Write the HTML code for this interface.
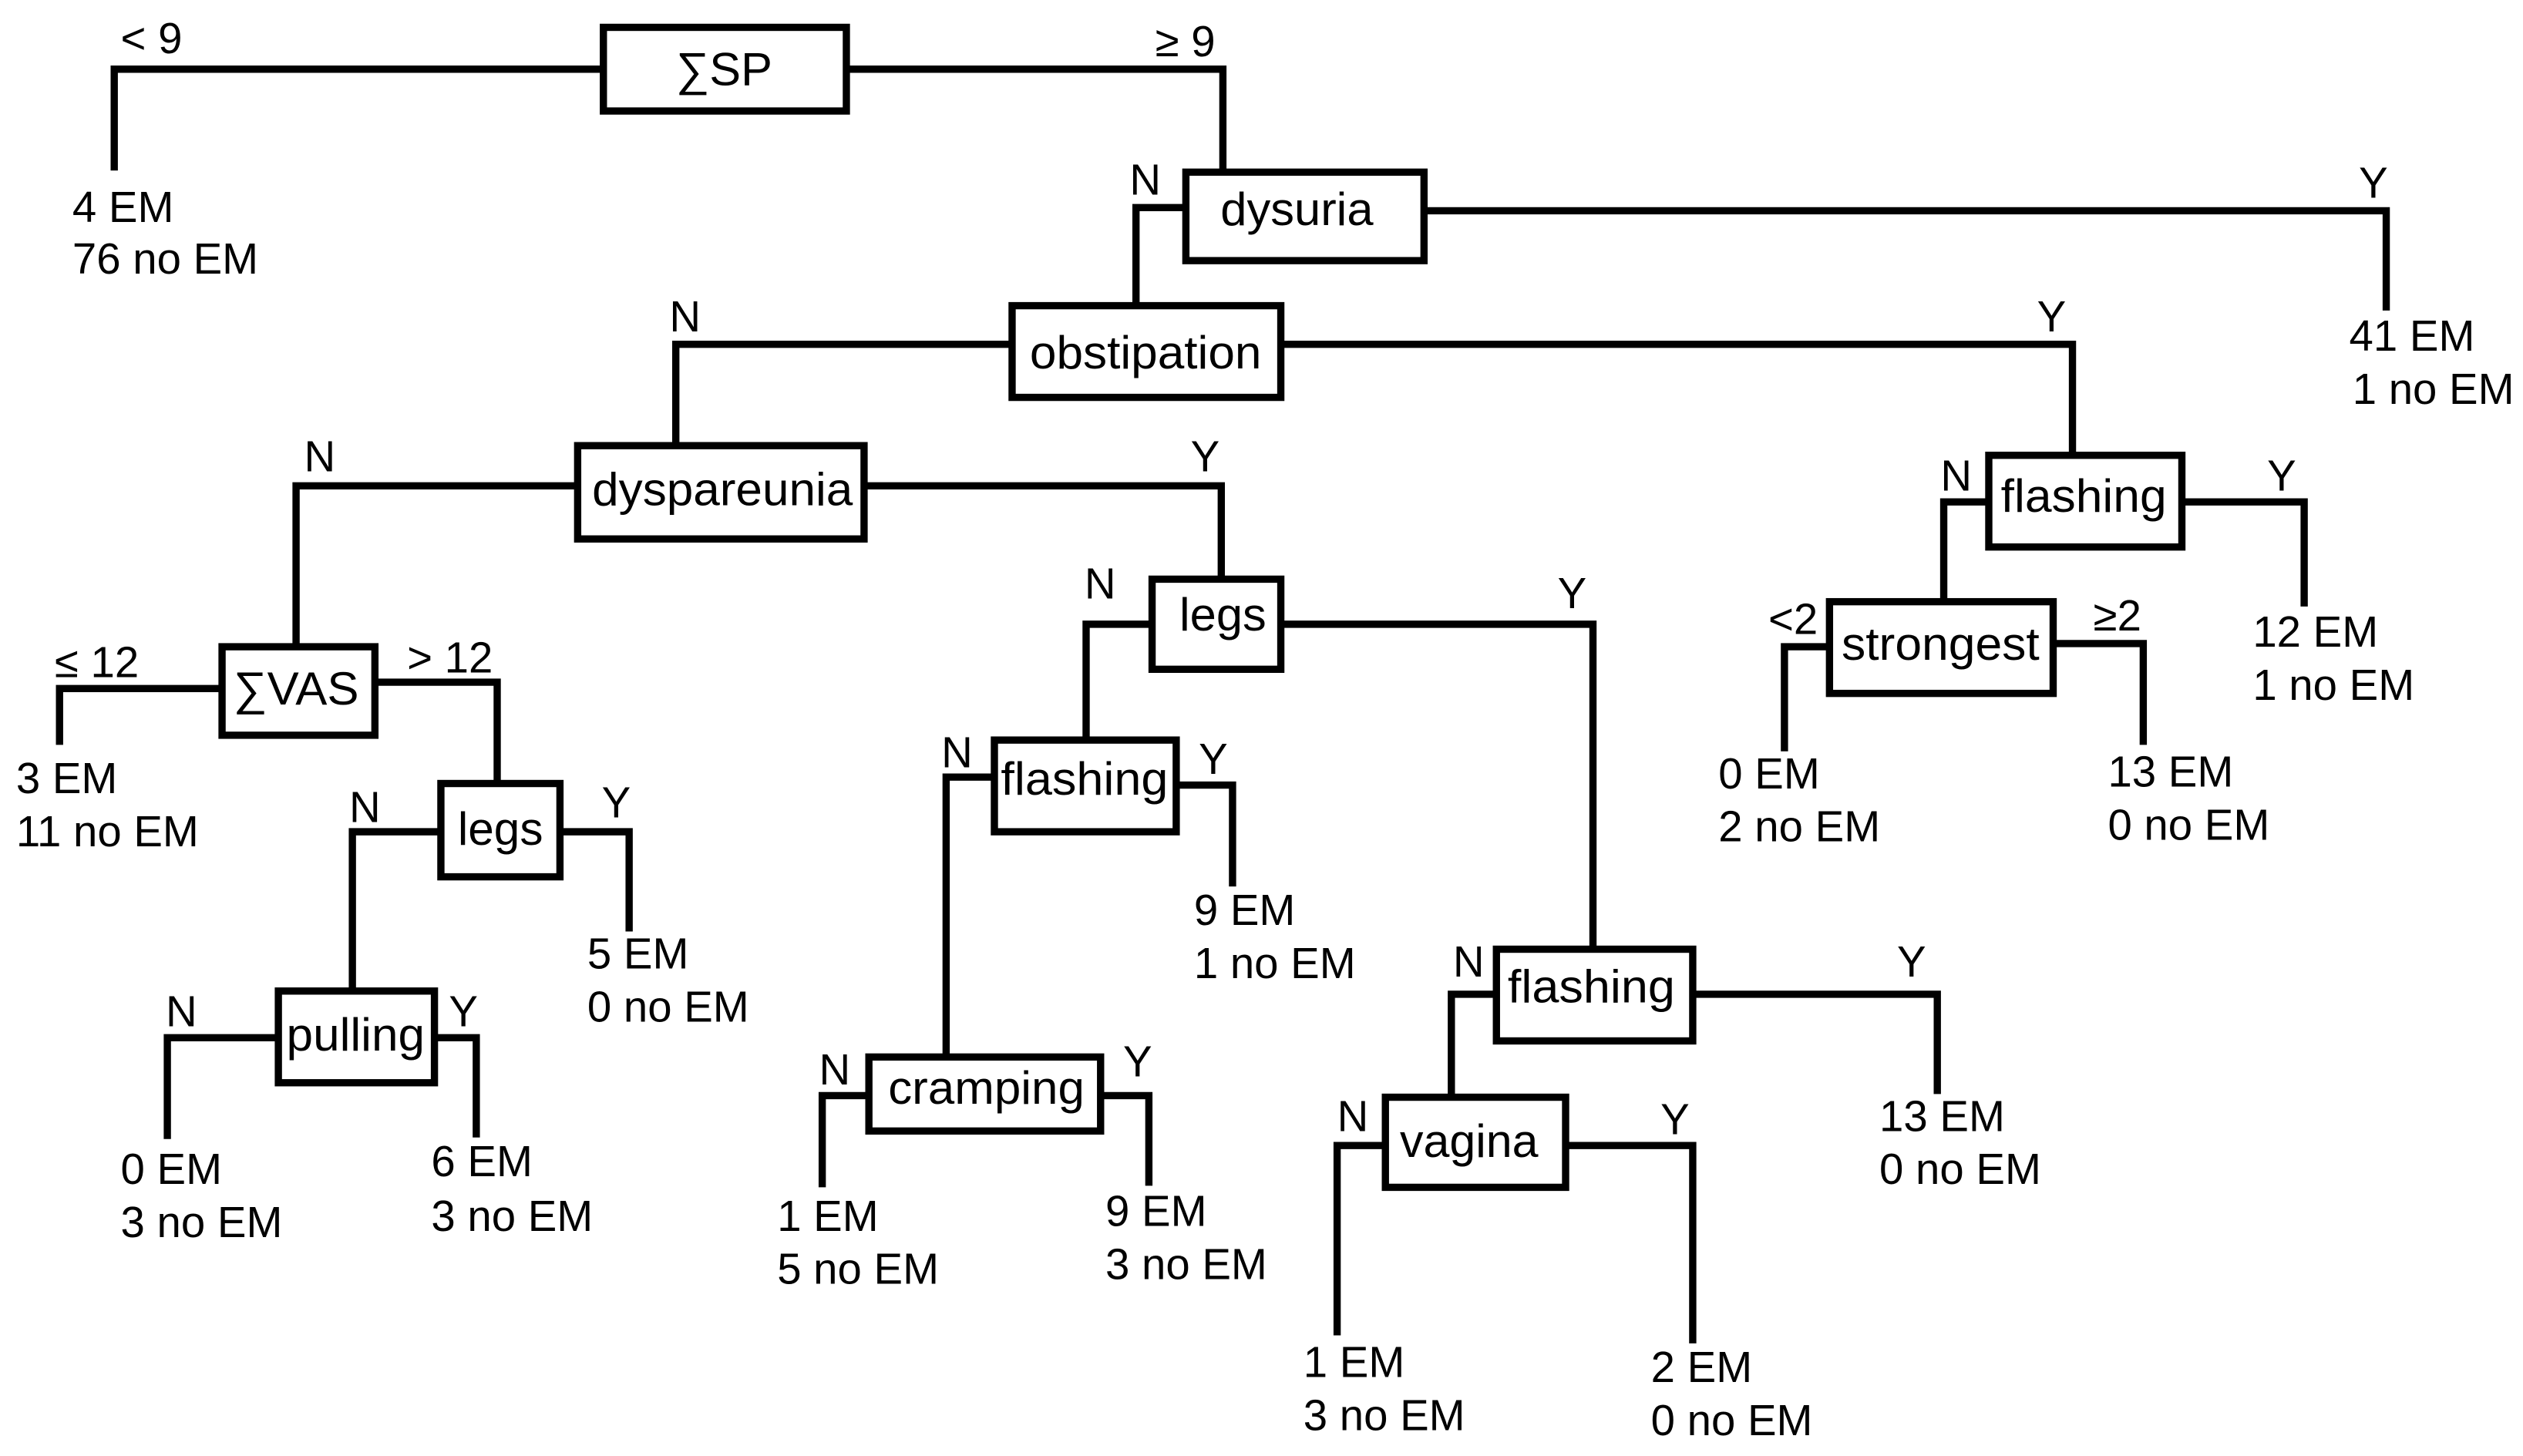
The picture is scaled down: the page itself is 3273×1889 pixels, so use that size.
<!DOCTYPE html>
<html><head><meta charset="utf-8"><style>
html,body{margin:0;padding:0;background:#fff;}
svg{display:block;}
text{font-family:"Liberation Sans",Arial,sans-serif;font-size:27px;fill:#000;}
.b text{font-size:29px;}
</style></head><body>
<svg width="3273" height="1889" viewBox="0 0 1568 905" preserveAspectRatio="none" xmlns="http://www.w3.org/2000/svg">
<g fill="none" stroke="#000" stroke-width="4.5">
<polyline points="375,43 71,43 71,106"/>
<polyline points="526,43 760,43 760,107"/>
<polyline points="885,131 1483,131 1483,193"/>
<polyline points="737,129 706,129 706,190"/>
<polyline points="629,214 420,214 420,277"/>
<polyline points="796,214 1288,214 1288,283"/>
<polyline points="359,302 184,302 184,402"/>
<polyline points="537,302 759,302 759,360"/>
<polyline points="138,428 37,428 37,463"/>
<polyline points="233,424 309,424 309,487"/>
<polyline points="274,517 219,517 219,616"/>
<polyline points="348,517 391,517 391,579"/>
<polyline points="173,645 104,645 104,708"/>
<polyline points="270,645 296,645 296,707"/>
<polyline points="716,388 675,388 675,460"/>
<polyline points="796,388 990,388 990,590"/>
<polyline points="618,483 588,483 588,657"/>
<polyline points="731,488 766,488 766,551"/>
<polyline points="540,681 511,681 511,738"/>
<polyline points="684,681 714,681 714,737"/>
<polyline points="930,618 902,618 902,682"/>
<polyline points="1052,618 1204,618 1204,680"/>
<polyline points="861,712 831,712 831,830"/>
<polyline points="973,712 1052,712 1052,835"/>
<polyline points="1236,312 1208,312 1208,374"/>
<polyline points="1356,312 1432,312 1432,377"/>
<polyline points="1137,402 1109,402 1109,467"/>
<polyline points="1276,400 1332,400 1332,463"/>
<g fill="#fff">
<rect x="375" y="17" width="151" height="52"/>
<rect x="737" y="107" width="148" height="55"/>
<rect x="629" y="190" width="167" height="57"/>
<rect x="359" y="277" width="178" height="58"/>
<rect x="138" y="402" width="95" height="55"/>
<rect x="274" y="487" width="74" height="58"/>
<rect x="173" y="616" width="97" height="57"/>
<rect x="716" y="360" width="80" height="56"/>
<rect x="618" y="460" width="113" height="57"/>
<rect x="540" y="657" width="144" height="46"/>
<rect x="930" y="590" width="122" height="57"/>
<rect x="861" y="682" width="112" height="56"/>
<rect x="1236" y="283" width="120" height="57"/>
<rect x="1137" y="374" width="139" height="57"/>
</g>
</g>
<g class="b" text-anchor="middle">
<text x="450" y="53" font-size="30" textLength="60" lengthAdjust="spacingAndGlyphs">∑SP</text>
<text x="806" y="140" textLength="95" lengthAdjust="spacingAndGlyphs">dysuria</text>
<text x="712" y="229" textLength="144" lengthAdjust="spacingAndGlyphs">obstipation</text>
<text x="449" y="314" textLength="162" lengthAdjust="spacingAndGlyphs">dyspareunia</text>
<text x="184" y="438" textLength="78" lengthAdjust="spacingAndGlyphs">∑VAS</text>
<text x="311" y="525" textLength="53" lengthAdjust="spacingAndGlyphs">legs</text>
<text x="221" y="653" textLength="86" lengthAdjust="spacingAndGlyphs">pulling</text>
<text x="760" y="392" textLength="54" lengthAdjust="spacingAndGlyphs">legs</text>
<text x="674" y="494" textLength="104" lengthAdjust="spacingAndGlyphs">flashing</text>
<text x="613" y="686" textLength="122" lengthAdjust="spacingAndGlyphs">cramping</text>
<text x="989" y="623" textLength="104" lengthAdjust="spacingAndGlyphs">flashing</text>
<text x="913" y="719" textLength="86" lengthAdjust="spacingAndGlyphs">vagina</text>
<text x="1295" y="318" textLength="103" lengthAdjust="spacingAndGlyphs">flashing</text>
<text x="1206" y="410" textLength="123" lengthAdjust="spacingAndGlyphs">strongest</text>
</g>
<g>
<text x="75" y="33">&lt; 9</text><text x="718" y="35">≥ 9</text>
<text x="45" y="138">4 EM</text><text x="45" y="170">76 no EM</text>
<text x="702" y="121">N</text><text x="1466" y="123">Y</text>
<text x="1460" y="218">41 EM</text><text x="1462" y="251">1 no EM</text>
<text x="416" y="206">N</text><text x="1266" y="206">Y</text>
<text x="189" y="293">N</text><text x="740" y="293">Y</text>
<text x="34" y="421">≤ 12</text><text x="253" y="418">&gt; 12</text>
<text x="10" y="493">3 EM</text><text x="10" y="526">11 no EM</text>
<text x="217" y="511">N</text><text x="374" y="508">Y</text>
<text x="365" y="602">5 EM</text><text x="365" y="635">0 no EM</text>
<text x="103" y="638">N</text><text x="279" y="638">Y</text>
<text x="75" y="736">0 EM</text><text x="75" y="769">3 no EM</text>
<text x="268" y="731">6 EM</text><text x="268" y="765">3 no EM</text>
<text x="674" y="372">N</text><text x="968" y="378">Y</text>
<text x="585" y="477">N</text><text x="745" y="481">Y</text>
<text x="742" y="575">9 EM</text><text x="742" y="608">1 no EM</text>
<text x="509" y="674">N</text><text x="698" y="669">Y</text>
<text x="483" y="765">1 EM</text><text x="483" y="798">5 no EM</text>
<text x="687" y="762">9 EM</text><text x="687" y="795">3 no EM</text>
<text x="903" y="607">N</text><text x="1179" y="607">Y</text>
<text x="1168" y="703">13 EM</text><text x="1168" y="736">0 no EM</text>
<text x="831" y="703">N</text><text x="1032" y="705">Y</text>
<text x="810" y="856">1 EM</text><text x="810" y="889">3 no EM</text>
<text x="1026" y="859">2 EM</text><text x="1026" y="892">0 no EM</text>
<text x="1206" y="305">N</text><text x="1409" y="305">Y</text>
<text x="1400" y="402">12 EM</text><text x="1400" y="435">1 no EM</text>
<text x="1099" y="394" font-size="23">&lt;2</text><text x="1301" y="392" font-size="23">≥2</text>
<text x="1068" y="490">0 EM</text><text x="1068" y="523">2 no EM</text>
<text x="1310" y="489">13 EM</text><text x="1310" y="522">0 no EM</text>
</g>
</svg>
</body></html>
